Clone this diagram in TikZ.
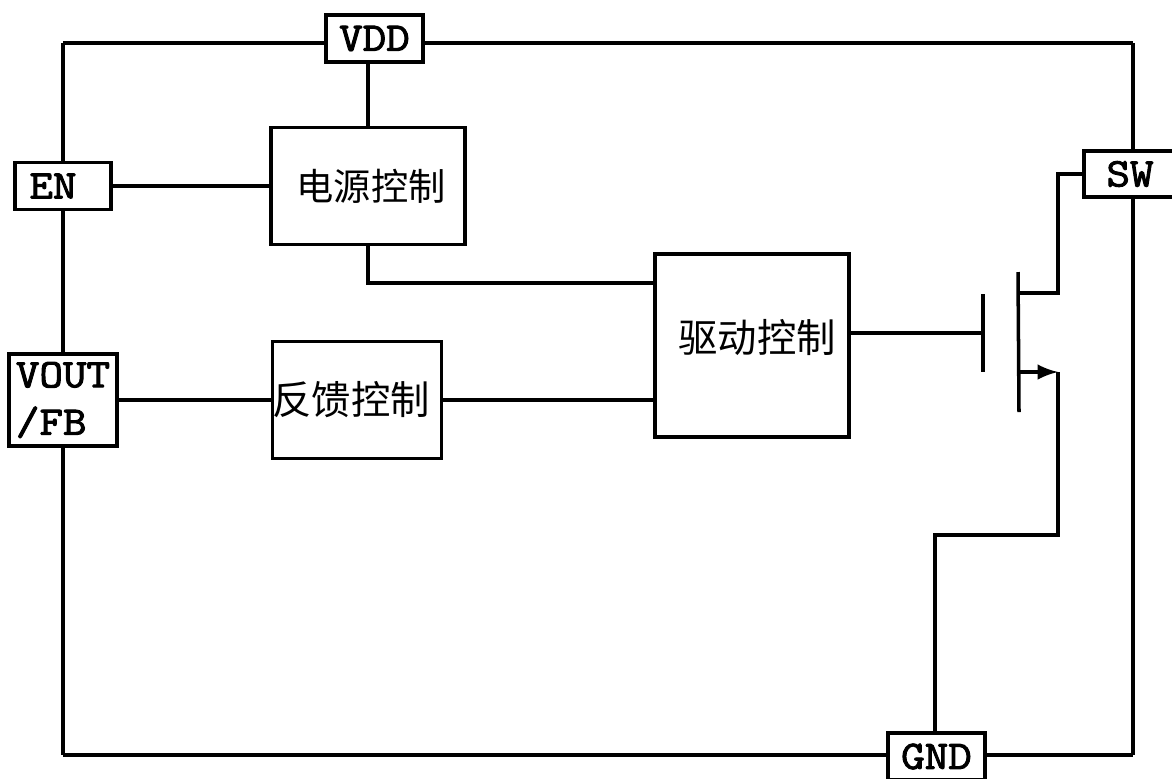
\documentclass[tikz,border=0pt]{standalone}
\usepackage{fontspec}
\newfontfamily\cjk{Noto Sans CJK SC}
\newfontfamily\pinfont{Latin Modern Mono}[FakeBold=2.5,FakeStretch=1.13]
\begin{document}
\begin{tikzpicture}[line width=1pt]
    \useasboundingbox (0,0) rectangle (11.72,7.78);
    \clip (0,0) rectangle (11.72,7.78);
    \begin{scope}[every node/.style={rectangle,draw,line width=1pt,inner sep=0pt,font=\pinfont\fontsize{11.5}{13.5}\selectfont,align=left}]
      \node[minimum width=0.97cm,minimum height=0.47cm] (vdd) at (3.745,7.395) {VDD};
      \node[minimum width=0.96cm,minimum height=0.47cm] (en) at (0.63,5.92) {EN\hspace*{0.2cm}};
      \node[minimum width=1.08cm,minimum height=0.92cm] (vout) at (0.63,3.78) {VOUT\\/FB};
      \node[minimum width=0.98cm,minimum height=0.46cm] (sw) at (11.33,6.04) {SW\hspace*{0.06cm}};
      \node[minimum width=0.97cm,minimum height=0.47cm] (gnd) at (9.365,0.215) {GND};
    \end{scope}
    \begin{scope}[every node/.style={rectangle,draw,line width=1pt,inner sep=0pt,font=\cjk\fontsize{10.6}{12}\selectfont}]
      \node[minimum width=1.94cm,minimum height=1.17cm] (pwr) at (3.68,5.92) {\raisebox{0.03cm}{\hspace*{0.06cm}电源控制}};
      \node[minimum width=1.68cm,minimum height=1.17cm] (fb) at (3.57,3.78) {\fontsize{11.2}{12}\selectfont\raisebox{-0.05cm}{反馈控制\hspace*{0.12cm}}};
      \node[minimum width=1.94cm,minimum height=1.83cm] (drv) at (7.52,4.325) {\fontsize{11.2}{12}\selectfont\raisebox{0.2cm}{\hspace*{0.1cm}驱动控制}};
    \end{scope}
    % frame corners
    \coordinate (tl) at (0.63,7.35);
    \coordinate (tr) at (11.33,7.35);
    \coordinate (bl) at (0.63,0.23);
    \coordinate (br) at (11.33,0.23);
    % mosfet
    \coordinate (gt) at (9.83,4.84);
    \coordinate (gb) at (9.83,4.06);
    \coordinate (gm) at (9.83,4.45);
    \coordinate (ct) at (10.18,5.06);
    \coordinate (cb) at (10.19,3.66);
    \coordinate (dr) at (10.18,4.85);
    \coordinate (so) at (10.19,4.06);
    \coordinate (de) at (10.58,4.85);
    \coordinate (se) at (10.58,4.06);
    \coordinate (sd) at (10.58,2.43);
    \coordinate (gd) at (9.35,2.43);
    \begin{scope}[every edge/.style={draw=black,line width=1pt}]
      \path (en) edge (tl);
      \path (en) edge (vout);
      \path (vout) edge (bl);
      \path (sw) edge (tr);
      \path (sw) edge (br);
      \path (en) edge (pwr);
      \path (vout) edge (fb);
      \path (fb) edge (drv.west |- fb);
      \path (pwr |- vdd.south) edge (pwr.north);
      \path (drv.east |- gm) edge (gm);
      \path (gt) edge (gb);
      \path (ct) edge (cb);
      \path (so) edge[-latex] (se);
    \end{scope}
    \draw (tl) -- (vdd.west |- tl);
    \draw (vdd.east |- tl) -- (tr);
    \draw (bl) -- (gnd.west |- bl);
    \draw (gnd.east |- br) -- (br);
    \draw (pwr.south) |- (drv.west |- 0,4.95);
    \draw (dr) -- (de) |- (sw.west);
    \draw (se) -- (sd) -- (gd) -- (gnd.north -| gd);
\end{tikzpicture}
\end{document}
